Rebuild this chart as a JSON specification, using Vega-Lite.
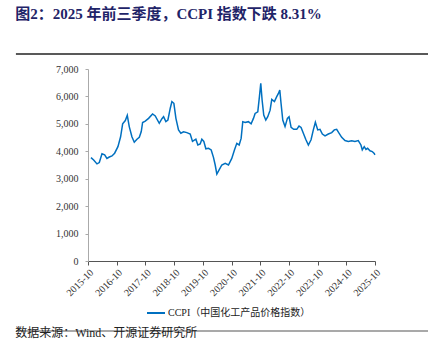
{
  "$schema": "https://vega.github.io/schema/vega-lite/v6.json",
  "padding": {"left": 15, "top": 7, "right": 5, "bottom": 5},
  "background": "white",
  "spacing": 9,
  "config": {"view": {"stroke": null}, "font": "Liberation Serif"},
  "resolve": {"legend": {"color": "independent"}, "scale": {"color": "independent", "x": "independent", "y": "independent"}},
  "datasets": {
    "ccpi": [
      {"d": "2015/11/08", "v": 3770}, {"d": "2015/12/12", "v": 3680}, {"d": "2016/01/23", "v": 3540},
      {"d": "2016/02/22", "v": 3590}, {"d": "2016/03/27", "v": 3910}, {"d": "2016/04/30", "v": 3870},
      {"d": "2016/05/29", "v": 3740}, {"d": "2016/06/28", "v": 3790}, {"d": "2016/08/01", "v": 3830},
      {"d": "2016/09/04", "v": 3930}, {"d": "2016/10/16", "v": 4170}, {"d": "2016/11/19", "v": 4530},
      {"d": "2016/12/15", "v": 5000}, {"d": "2017/01/18", "v": 5120}, {"d": "2017/02/12", "v": 5310},
      {"d": "2017/03/09", "v": 4900}, {"d": "2017/04/12", "v": 4530}, {"d": "2017/05/12", "v": 4330},
      {"d": "2017/06/15", "v": 4440}, {"d": "2017/07/15", "v": 4510}, {"d": "2017/08/09", "v": 4720},
      {"d": "2017/08/26", "v": 5050}, {"d": "2017/09/29", "v": 5100}, {"d": "2017/11/10", "v": 5200},
      {"d": "2017/12/31", "v": 5360}, {"d": "2018/02/03", "v": 5290}, {"d": "2018/03/26", "v": 5020},
      {"d": "2018/04/29", "v": 5190}, {"d": "2018/05/20", "v": 5260}, {"d": "2018/06/18", "v": 5080},
      {"d": "2018/07/14", "v": 5140}, {"d": "2018/08/13", "v": 5570}, {"d": "2018/09/03", "v": 5810},
      {"d": "2018/09/28", "v": 5750}, {"d": "2018/10/24", "v": 5200}, {"d": "2018/11/26", "v": 4780},
      {"d": "2018/12/26", "v": 4660}, {"d": "2019/01/29", "v": 4710}, {"d": "2019/03/12", "v": 4680},
      {"d": "2019/04/24", "v": 4630}, {"d": "2019/05/23", "v": 4360}, {"d": "2019/07/05", "v": 4440},
      {"d": "2019/07/30", "v": 4230}, {"d": "2019/08/29", "v": 4270}, {"d": "2019/09/19", "v": 4440},
      {"d": "2019/10/14", "v": 4360}, {"d": "2019/11/09", "v": 4090}, {"d": "2019/12/13", "v": 4110},
      {"d": "2020/01/16", "v": 4050}, {"d": "2020/02/14", "v": 3780}, {"d": "2020/03/07", "v": 3500},
      {"d": "2020/03/28", "v": 3170}, {"d": "2020/04/26", "v": 3320}, {"d": "2020/05/30", "v": 3500},
      {"d": "2020/07/12", "v": 3560}, {"d": "2020/08/23", "v": 3500}, {"d": "2020/10/04", "v": 3740},
      {"d": "2020/11/07", "v": 4050}, {"d": "2020/12/07", "v": 4290}, {"d": "2021/01/06", "v": 4230},
      {"d": "2021/01/31", "v": 4470}, {"d": "2021/02/21", "v": 5080}, {"d": "2021/03/23", "v": 5050},
      {"d": "2021/05/04", "v": 5080}, {"d": "2021/06/07", "v": 5000}, {"d": "2021/07/07", "v": 5200},
      {"d": "2021/07/28", "v": 5380}, {"d": "2021/08/31", "v": 5440}, {"d": "2021/09/21", "v": 5990},
      {"d": "2021/10/08", "v": 6480}, {"d": "2021/10/25", "v": 5870}, {"d": "2021/11/15", "v": 5320},
      {"d": "2021/12/11", "v": 5140}, {"d": "2022/01/05", "v": 5260}, {"d": "2022/02/04", "v": 5500},
      {"d": "2022/02/25", "v": 5890}, {"d": "2022/03/31", "v": 5810}, {"d": "2022/04/29", "v": 5990},
      {"d": "2022/05/21", "v": 6110}, {"d": "2022/06/07", "v": 6230}, {"d": "2022/06/23", "v": 5750},
      {"d": "2022/07/15", "v": 5140}, {"d": "2022/08/13", "v": 4900}, {"d": "2022/09/12", "v": 5200},
      {"d": "2022/10/03", "v": 5260}, {"d": "2022/10/29", "v": 4870}, {"d": "2022/12/01", "v": 4800},
      {"d": "2023/01/09", "v": 4800}, {"d": "2023/02/07", "v": 4920}, {"d": "2023/03/05", "v": 4870},
      {"d": "2023/04/03", "v": 4660}, {"d": "2023/05/03", "v": 4440}, {"d": "2023/06/06", "v": 4230},
      {"d": "2023/07/10", "v": 4420}, {"d": "2023/08/08", "v": 4780}, {"d": "2023/09/03", "v": 5060},
      {"d": "2023/10/03", "v": 4780}, {"d": "2023/11/01", "v": 4800}, {"d": "2023/12/01", "v": 4630},
      {"d": "2024/01/04", "v": 4560}, {"d": "2024/02/15", "v": 4630}, {"d": "2024/03/29", "v": 4680},
      {"d": "2024/05/01", "v": 4780}, {"d": "2024/05/31", "v": 4800}, {"d": "2024/06/30", "v": 4660},
      {"d": "2024/08/03", "v": 4510}, {"d": "2024/09/14", "v": 4390}, {"d": "2024/10/26", "v": 4360},
      {"d": "2024/12/08", "v": 4380}, {"d": "2025/01/19", "v": 4360}, {"d": "2025/03/02", "v": 4390},
      {"d": "2025/04/05", "v": 4230}, {"d": "2025/04/22", "v": 4050}, {"d": "2025/05/17", "v": 4170},
      {"d": "2025/06/08", "v": 4070}, {"d": "2025/06/29", "v": 4110}, {"d": "2025/07/29", "v": 4020},
      {"d": "2025/08/27", "v": 3990}, {"d": "2025/09/21", "v": 3920}, {"d": "2025/09/30", "v": 3870}
    ]
  },
  "vconcat": [
    {
      "width": 340,
      "height": 1,
      "title": {
        "text": "图2：2025 年前三季度，CCPI 指数下跌 8.31%",
        "anchor": "start",
        "fontSize": 15,
        "fontWeight": "bold",
        "color": "#1f2468",
        "font": "Liberation Serif, Noto Sans CJK SC",
        "offset": 31
      },
      "data": {"values": [{"a": -0.212, "b": 1, "c": 0}]},
      "mark": {"type": "rule", "color": "#222222", "strokeWidth": 1.5},
      "encoding": {
        "x": {"field": "a", "type": "quantitative", "scale": {"domain": [0, 1], "nice": false, "zero": false}, "axis": null},
        "x2": {"field": "b"},
        "y": {"field": "c", "type": "quantitative", "scale": {"domain": [0, 1]}, "axis": null}
      }
    },
    {
      "width": 287,
      "height": 192,
      "data": {"name": "ccpi"},
      "mark": {"type": "line", "strokeWidth": 1.5},
      "encoding": {
        "x": {
          "field": "d",
          "type": "temporal",
          "scale": {"domain": [{"year": 2015, "month": 10, "date": 1}, {"year": 2025, "month": 10, "date": 1}]},
          "axis": {
            "values": [
              {"year": 2015, "month": 10, "date": 1}, {"year": 2016, "month": 10, "date": 1},
              {"year": 2017, "month": 10, "date": 1}, {"year": 2018, "month": 10, "date": 1},
              {"year": 2019, "month": 10, "date": 1}, {"year": 2020, "month": 10, "date": 1},
              {"year": 2021, "month": 10, "date": 1}, {"year": 2022, "month": 10, "date": 1},
              {"year": 2023, "month": 10, "date": 1}, {"year": 2024, "month": 10, "date": 1},
              {"year": 2025, "month": 10, "date": 1}
            ],
            "format": "%Y-%m",
            "labelAngle": -45,
            "labelOverlap": false,
            "labelFont": "Liberation Serif",
            "labelFontSize": 10,
            "labelColor": "#333333",
            "domainColor": "#555555",
            "tickColor": "#555555",
            "tickSize": 4,
            "labelPadding": 2,
            "grid": false,
            "title": null
          }
        },
        "y": {
          "field": "v",
          "type": "quantitative",
          "scale": {"domain": [0, 7000], "nice": false},
          "axis": {
            "values": [0, 1000, 2000, 3000, 4000, 5000, 6000, 7000],
            "format": ",d",
            "labelFont": "Liberation Serif",
            "labelFontSize": 10,
            "labelColor": "#333333",
            "domainColor": "#aaaaaa",
            "tickColor": "#aaaaaa",
            "tickSize": 3,
            "labelPadding": 7,
            "minExtent": 72,
            "grid": false,
            "title": null
          }
        },
        "color": {
          "datum": "CCPI（中国化工产品价格指数）",
          "scale": {"range": ["#0070c0"]},
          "legend": {
            "orient": "none",
            "legendX": 58,
            "legendY": 234,
            "title": null,
            "symbolType": "stroke",
            "symbolSize": 324,
            "symbolStrokeWidth": 2,
            "labelOffset": 2,
            "labelFont": "Liberation Serif, Noto Sans CJK SC",
            "labelFontSize": 10,
            "labelColor": "#222222"
          }
        }
      }
    },
    {
      "width": 340,
      "height": 1,
      "title": {
        "text": "数据来源：Wind、开源证券研究所",
        "orient": "bottom",
        "anchor": "start",
        "fontSize": 12,
        "fontWeight": "normal",
        "color": "#222222",
        "font": "Liberation Serif, Noto Sans CJK SC",
        "offset": -4
      },
      "data": {"values": [{"a": -0.212, "b": 1, "c": 1}]},
      "mark": {"type": "rule", "color": "#8c8c8c", "strokeWidth": 1.5},
      "encoding": {
        "x": {"field": "a", "type": "quantitative", "scale": {"domain": [0, 1], "nice": false, "zero": false}, "axis": null},
        "x2": {"field": "b"},
        "y": {"field": "c", "type": "quantitative", "scale": {"domain": [0, 1]}, "axis": null}
      }
    }
  ]
}
